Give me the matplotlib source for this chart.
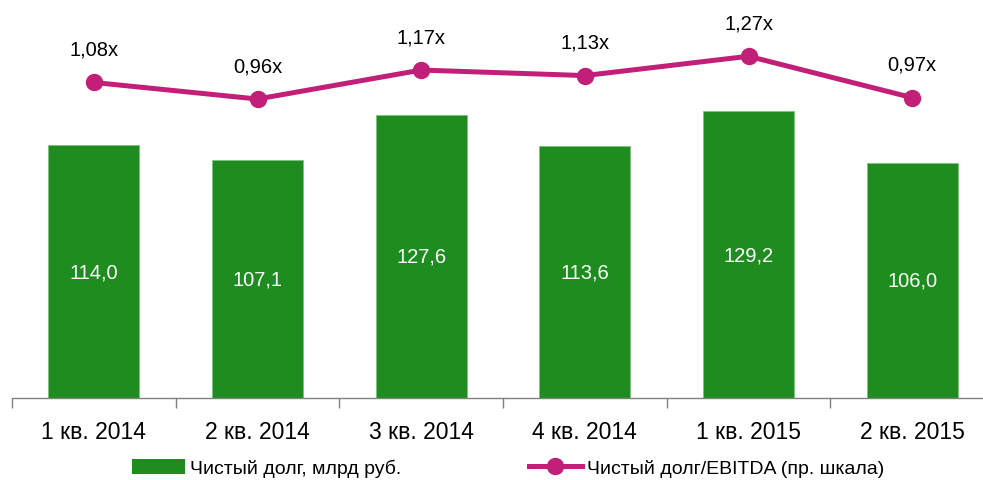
import matplotlib
matplotlib.use('Agg')
import matplotlib.pyplot as plt
from matplotlib.lines import Line2D
from matplotlib.patches import Patch

plt.rcParams['font.family'] = ['Liberation Sans Narrow', 'Liberation Sans', 'DejaVu Sans']

# data
quarters = ['1 кв. 2014', '2 кв. 2014', '3 кв. 2014', '4 кв. 2014', '1 кв. 2015', '2 кв. 2015']
net_debt = [114.0, 107.1, 127.6, 113.6, 129.2, 106.0]
debt_ebitda = [1.08, 0.96, 1.17, 1.13, 1.27, 0.97]

green = '#1e8c1e'
magenta = '#c21f78'

fig = plt.figure(figsize=(9.83, 4.81), dpi=100)
ax = fig.add_axes([12 / 983, 82 / 481, 982 / 983, 399 / 481])
x = list(range(len(quarters)))

ax.bar(x, net_debt, width=0.556, color=green, edgecolor='#7cc47c', linewidth=0.6, zorder=2)
for i, v in enumerate(net_debt):
    ax.text(i, v / 2, f'{v:.1f}'.replace('.', ','), ha='center', va='center',
            color='white', fontsize=14.5)

ax.set_xlim(-0.5, 5.5)
ax.set_ylim(0, 179.8)
ax.set_yticks([])
for s in ['top', 'right', 'left']:
    ax.spines[s].set_visible(False)
ax.spines['bottom'].set_color('#808080')
ax.spines['bottom'].set_linewidth(1)
ax.set_xticks([i - 0.5 for i in range(len(quarters) + 1)])
ax.set_xticklabels([])
ax.tick_params(axis='x', length=7, color='#808080', width=1)
for i, q in enumerate(quarters):
    ax.text(i, -15, q, ha='center', va='center', fontsize=16.5, color='black')

ax2 = ax.twinx()
ax2.set_ylim(-1.207, 1.685)
ax2.axis('off')
ax2.plot(x, debt_ebitda, color=magenta, linewidth=3.6, marker='o', markersize=11.5, zorder=3)
for i, v in enumerate(debt_ebitda):
    ax2.annotate(f'{v:.2f}'.replace('.', ',') + 'x', (i, v), xytext=(0, 24),
                 textcoords='offset points', ha='center', va='center', fontsize=14.5)

handles = [Patch(facecolor=green, edgecolor='none'),
           Line2D([], [], color=magenta, linewidth=3.6, marker='o', markersize=11.5)]
labels = ['Чистый долг, млрд руб.', 'Чистый долг/EBITDA (пр. шкала)']
fig.legend(handles, labels, loc='center', bbox_to_anchor=(508 / 983, 12 / 481), ncol=2,
           frameon=False, fontsize=14, handlelength=2.7, handleheight=0.8,
           handletextpad=0.25, columnspacing=6.6, borderaxespad=0, borderpad=0)

fig.savefig('out.png', dpi=100)
